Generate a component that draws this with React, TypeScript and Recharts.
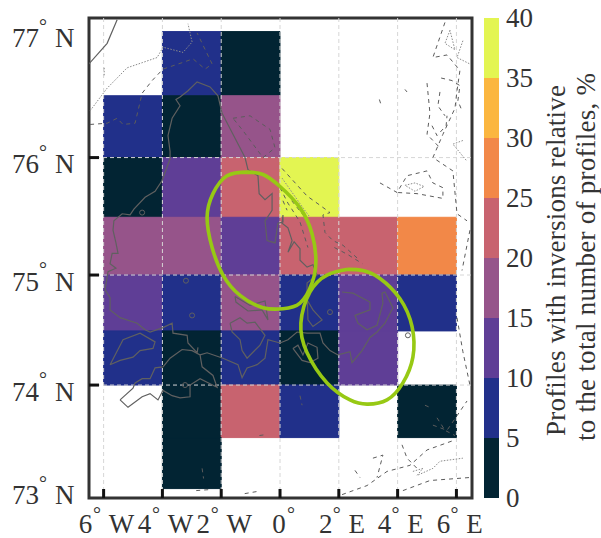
import React from 'react';
import {
  Bar,
  BarChart,
  ComposedChart,
  Line,
  ReferenceArea,
  ReferenceLine,
  Scatter,
  XAxis,
  YAxis,
} from 'recharts';

type Pt = [number, number];

const FONT = '"Liberation Serif", serif';
const INK = '#333333';

// 2 x 0.5 degree cells, % of profiles with inversions (null = no data)
const cellLons = [-6, -4, -2, 0, 2, 4];
const cellLats = [76.5, 76, 75.5, 75, 74.5, 74, 73.5, 73];
const cellValues: (number | null)[][] = [
  [null, 7.5, 2.5, null, null, null],
  [7.5, 2.5, 17.5, null, null, null],
  [2.5, 12.5, 22.5, 37.5, null, null],
  [17.5, 17.5, 12.5, 22.5, 22.5, 27.5],
  [12.5, 7.5, 17.5, 7.5, 12.5, 7.5],
  [7.5, 2.5, 7.5, 2.5, 12.5, null],
  [null, 2.5, 22.5, 7.5, null, 2.5],
  [null, 2.5, null, null, null, null],
];

const bandColors = ['#022433', '#21308a', '#5f3e96', '#96548a', '#c8636f', '#f28848', '#fbb63f', '#e3f552'];
const bandTicks = [0, 5, 10, 15, 20, 25, 30, 35, 40];
const bandRow = [{ name: 'scale', b0: 5, b1: 5, b2: 5, b3: 5, b4: 5, b5: 5, b6: 5, b7: 5 }];

const lonTicks = [-6, -4, -2, 0, 2, 4, 6];
const latTicks = [73, 74, 75, 76, 77];
const gridLats = [74, 75, 76];

const ellipseWest: Pt[] = [[-1.09,75.88],[-1.8,75.85],[-2.28,75.7],[-2.48,75.5],[-2.31,75.24],[-1.94,75],[-1.36,74.82],[-0.58,74.71],[0.1,74.7],[0.68,74.75],[1.09,74.93],[1.22,75.13],[1.09,75.36],[0.68,75.58],[0,75.76],[-0.58,75.86],[-1.09,75.88]];
const ellipseEast: Pt[] = [[2.31,75.05],[1.6,75],[1.02,74.85],[0.71,74.57],[0.92,74.3],[1.6,74.02],[2.38,73.86],[2.96,73.82],[3.64,73.86],[4.18,74.02],[4.52,74.26],[4.49,74.54],[4.08,74.79],[3.4,74.97],[2.82,75.04],[2.31,75.05]];

// coastlines
const coasts: Pt[][] = [
  [[-5.54,77.09],[-5.88,76.91],[-6.5,76.75]],
  [[0.92,74.87],[0.95,74.6],[1.12,74.54],[1.43,74.6],[1.12,74.69],[0.92,74.78],[0.92,74.93],[1.26,75],[1.12,75.09],[0.92,75.07],[0.68,75.13],[0.68,75.23],[0.48,75.29],[0.27,75.2],[0.41,75.3],[0.27,75.41],[0.07,75.45],[0.1,75.52],[0.1,75.46],[-0.07,75.45],[-0.17,75.28],[-0.44,75.3],[-0.51,75.47],[-0.27,75.56],[-0.27,75.7],[-0.51,75.65],[-0.71,75.7],[-0.75,75.85],[-1.09,75.9],[-1.19,76],[-1.6,76.19],[-1.97,76.36],[-2.11,76.5],[-2.38,76.57],[-2.82,76.61],[-3.13,76.54],[-3.4,76.49],[-3.54,76.47],[-3.4,76.42],[-3.67,76.32],[-3.81,76.18],[-3.74,76.05],[-3.74,75.99],[-4.01,75.81],[-4.25,75.72],[-4.59,75.67],[-4.97,75.57],[-5.1,75.52],[-5.37,75.53],[-5.65,75.47],[-5.68,75.39],[-5.58,75.28],[-5.51,75.19],[-5.71,75.19],[-5.78,75.1],[-5.58,75.06],[-5.85,75.03],[-5.95,74.87],[-5.78,74.8],[-5.78,74.69],[-5.44,74.62],[-4.86,74.57],[-4.59,74.51],[-4.42,74.49],[-3.98,74.53],[-3.67,74.57],[-3.64,74.48],[-3.16,74.46],[-3.13,74.39],[-2.82,74.3],[-2.79,74.35]],
  [[-5.78,74.19],[-5.34,74.42],[-4.76,74.48],[-4.25,74.4],[-4.32,74.34],[-4.76,74.32],[-5,74.26],[-5.44,74.23],[-5.78,74.19]],
  [[-5.44,73.86],[-5.17,73.79],[-4.69,73.89],[-4.42,73.92],[-4.15,73.86],[-3.98,73.95],[-3.67,73.9],[-3.4,73.88],[-3.06,73.89],[-3.06,74],[-2.72,74.06],[-2.14,73.98],[-2.28,74.09],[-2.65,74.17],[-2.72,74.28],[-2.99,74.32],[-3.33,74.33],[-3.74,74.25],[-3.98,74.17],[-4.25,74.16],[-4.42,74.06],[-4.69,74.06],[-4.93,74.02],[-5,73.97],[-5.44,73.86]],
  [[-2.72,74.28],[-2.48,74.3],[-1.94,74.25],[-1.43,74.19],[-1.29,74.07],[-1.12,74.16],[-0.78,74.19],[-0.51,74.25],[-0.41,74.42],[0,74.39],[0.27,74.42],[0.58,74.49],[0.92,74.48],[1.36,74.48],[1.46,74.39],[1.7,74.32],[1.97,74.28],[2.38,74.31],[2.45,74.21],[2.79,74.32],[3.06,74.44],[3.3,74.49],[3.57,74.57],[3.84,74.71],[3.57,74.85],[3.47,74.84],[3.5,74.75],[3.3,74.55],[2.96,74.51],[2.65,74.57],[2.55,74.64],[3.06,74.69],[3.06,74.76],[2.48,74.84],[2.11,74.85]],
  [[-1.7,74.57],[-1.36,74.62],[-1.12,74.57],[-0.85,74.58],[-0.51,74.46],[-0.68,74.37],[-1.12,74.25],[-1.29,74.32],[-1.36,74.42],[-1.63,74.49],[-1.7,74.57]],
  [[-1.53,74.81],[-1.02,74.73],[-0.51,74.77],[-0.41,74.6],[-0.61,74.69],[-1.09,74.68],[-1.5,74.76],[-1.53,74.81]],
  [[0.44,74.34],[0.61,74.37],[0.78,74.28],[0.95,74.39],[1.26,74.35],[1.29,74.25],[1.02,74.21],[0.75,74.23],[0.44,74.34]],
];

// depth contours, dashed
const dashedContours: Pt[][] = [
  [[-6.46,76.27],[-5.88,76.28],[-5.54,76.32],[-5.34,76.27],[-4.93,76.28],[-4.69,76.52],[-4.35,76.62],[-3.98,76.71],[-3.33,76.76],[-2.96,76.79],[-2.55,76.71],[-2.31,76.75],[-2.82,76.99]],
  [[-1.6,76.32],[-1.02,76.34],[-0.34,76.23],[-0.17,76.08],[-0.58,76],[-1.26,76.22],[-1.6,76.32]],
  [[0.07,75.91],[0.92,75.68],[1.26,75.62],[1.7,75.54],[1.46,75.52],[1.53,75.37],[1.8,75.3],[2.14,75.26],[2.62,75.15]],
  [[0,75.75],[0.27,75.62],[0.68,75.46],[0.95,75.24]],
  [[0.1,75.64],[0.24,75.56]],
  [[0.4,75.64],[0.85,75.5]],
  [[1.85,75.24],[2.3,75.18],[2.8,75.1]],
  [[5.61,77.07],[5.2,76.8],[5.68,76.82],[6.12,76.7],[6.02,76.54],[5.95,76.4],[5.54,76.19],[5.2,76],[5.88,75.89],[6.02,75.53],[6.36,75.47]],
  [[5,76.6],[5.1,76.36],[5,76.19],[5.44,76.08]],
  [[5.48,76.64],[5.85,76.62],[6.12,76.58],[6.05,76.46],[6.19,76.38]],
  [[5.44,76.53],[5.37,76.42],[5.61,76.34]],
  [[5.17,76.26],[5.34,76.18],[5.65,76.26],[5.68,76.34]],
  [[3.38,76.47],[3.42,76.44]],
  [[4.25,76.55],[4.32,76.53]],
  [[3.4,75.79],[3.98,75.71],[4.32,75.85],[5,75.89],[5.2,75.79],[5.54,75.75],[5.54,75.66],[4.66,75.7],[3.98,75.71]],
  [[6.46,75.39],[6.19,75.04]],
  [[6.02,74.62],[6.22,74.31],[6.46,74]],
  [[2.11,72.94],[2.96,73.03],[3.64,73.17],[4.42,73.23],[5,73.38],[5.88,73.47]],
  [[3.16,73.3],[3.5,73.33],[3.3,73.11]],
  [[4.15,73.43],[4.32,73.3],[4.66,73.2]],
  [[4.18,72.98],[5.1,73.08],[6.46,73.11]],
  [[5.2,73.62],[5.68,73.57],[6.02,73.71],[6.36,73.85]],
  [[2.55,73.18],[2.72,73.11]],
  [[4.93,73.81],[5.17,73.78]],
  [[5.34,73.69],[5.61,73.57],[5.95,73.52]],
  [[0.68,73.9],[0.75,73.81]],
  [[-0.7,73.52],[-0.45,73.53]],
  [[-2.65,73.2],[-2.6,73.1]],
  [[-2.85,72.98],[-2.4,72.99]],
  [[-1.2,72.95],[-0.8,72.97]],
];

// depth contours, dotted
const dottedContours: Pt[][] = [
  [[-6.46,76.38],[-5.88,76.56],[-5.2,76.72],[-4.69,76.76],[-4.18,76.8],[-3.98,76.88],[-3.3,76.84],[-2.99,76.92],[-3.13,77.06]],
  [[-5.98,76.72],[-5.98,76.65]],
  [[0.07,75.83],[0.78,75.58],[1.02,75.5]],
  [[5.78,77.01],[5.61,76.91],[5.95,76.86],[5.78,77.01]],
  [[6.22,76.93],[6.02,76.8],[6.46,76.75]],
  [[6.22,76.14],[5.88,76.11],[6.36,75.97]],
  [[4.25,75.77],[4.59,75.79],[4.9,75.76],[4.59,75.72],[4.25,75.77]],
  [[4.52,73.17],[4.86,73.2],[4.66,73.13],[5.2,73.2],[5.44,73.27],[6.22,73.3]],
];

const islets: Pt[] = [[-3.2,74.95],[-2.99,74.64],[-3.23,74],[1.7,74.67],[4.35,74.46],[-4.69,75.54]];

// Mercator northing, the map is conformal so the y axis is not linear in latitude
const merc = (lat: number) => Math.log(Math.tan(Math.PI / 4 + (lat * Math.PI) / 360));
const toRows = (pts: Pt[]) => pts.map(([lon, lat]) => ({ lon, y: merc(lat) }));

const xDomain: [number, number] = [-6.497, 6.53];
const yDomain: [number, number] = [1.8952, 2.1802];
const plotBottom = 498;

const bandColor = (v: number) => bandColors[Math.min(Math.floor(v / 5), bandColors.length - 1)];

const LatTick = ({ y, index }: { y?: number; index?: number }) => {
  const lat = latTicks[index ?? 0];
  const py = y ?? 0;
  return (
    <g fontFamily={FONT} fill={INK}>
      {gridLats.includes(lat) && <line x1={89} x2={99} y1={py} y2={py} stroke="#111" strokeWidth={3} />}
      <text x={12} y={py + 15.5} fontSize={27}>{lat}</text>
      <text x={43} y={py + 1} fontSize={20} textAnchor="middle">°</text>
      <text x={55} y={py + 15.5} fontSize={27}>N</text>
    </g>
  );
};

const LonTick = ({ x, index }: { x?: number; index?: number }) => {
  const lon = lonTicks[index ?? 0];
  const px = x ?? 0;
  const digitOff = lon < 0 ? -18 : lon > 0 ? -13 : -1;
  const degOff = lon < 0 ? -6.5 : lon > 0 ? -2 : 11;
  const letter = lon < 0 ? 'W' : lon > 0 ? 'E' : '';
  return (
    <g fontFamily={FONT} fill={INK}>
      <line x1={px} x2={px} y1={plotBottom} y2={plotBottom - 9} stroke="#111" strokeWidth={3} />
      <text x={px + digitOff} y={533} fontSize={27} textAnchor="middle">{Math.abs(lon)}</text>
      <text x={px + degOff} y={521} fontSize={20} textAnchor="middle">°</text>
      {letter && <text x={px + 18} y={533} fontSize={27} textAnchor="middle">{letter}</text>}
    </g>
  );
};

const BandTick = ({ x, y, payload }: { x?: number; y?: number; payload?: { value: number } }) => (
  <text x={(x ?? 0) - 1} y={(y ?? 0) + 9} fontFamily={FONT} fontSize={27} fill={INK}>
    {payload?.value}
  </text>
);

const IsletMark = ({ cx, cy }: { cx?: number; cy?: number }) => (
  <circle cx={cx} cy={cy} r={2.5} fill="none" stroke="#606060" strokeWidth={1} />
);

export default function App() {
  return (
    <div style={{ position: 'absolute', left: 0, top: 0, width: 601, height: 538 }}>
      <div style={{ position: 'absolute', left: 0, top: 0 }}>
        <ComposedChart width={484} height={538} margin={{ top: 18, right: 12, bottom: 0, left: 0 }}>
          <XAxis
            dataKey="lon"
            type="number"
            domain={xDomain}
            ticks={lonTicks}
            allowDataOverflow
            axisLine={false}
            tickLine={false}
            height={40}
            interval={0}
            tick={<LonTick />}
          />
          <YAxis
            dataKey="y"
            type="number"
            domain={yDomain}
            ticks={latTicks.map(merc)}
            allowDataOverflow
            axisLine={false}
            tickLine={false}
            width={89}
            interval={0}
            tick={<LatTick />}
          />
          {cellValues.map((row, r) =>
            row.map((v, c) =>
              v === null ? null : (
                <ReferenceArea
                  key={`${r}-${c}`}
                  x1={cellLons[c]}
                  x2={cellLons[c] + 2}
                  y1={merc(cellLats[r])}
                  y2={merc(cellLats[r] + 0.5)}
                  fill={bandColor(v)}
                  fillOpacity={1}
                  stroke={bandColor(v)}
                  strokeWidth={1}
                  strokeOpacity={1}
                />
              ),
            ),
          )}
          {lonTicks.map((lon) => (
            <ReferenceLine key={lon} x={lon} stroke="#d6d6d6" strokeDasharray="4 3" />
          ))}
          {gridLats.map((lat) => (
            <ReferenceLine key={lat} y={merc(lat)} stroke="#d6d6d6" strokeDasharray="4 3" />
          ))}
          {dottedContours.map((pts, i) => (
            <Line key={`dot${i}`} data={toRows(pts)} dataKey="y" stroke="#8a8a8a" strokeWidth={1} strokeDasharray="1.5 1.5" dot={false} isAnimationActive={false} />
          ))}
          {dashedContours.map((pts, i) => (
            <Line key={`dash${i}`} data={toRows(pts)} dataKey="y" stroke="#5c5c5c" strokeWidth={1} strokeDasharray="4 4" dot={false} isAnimationActive={false} />
          ))}
          {coasts.map((pts, i) => (
            <Line key={`coast${i}`} data={toRows(pts)} dataKey="y" stroke="#606060" strokeWidth={1.2} dot={false} isAnimationActive={false} />
          ))}
          <Scatter data={toRows(islets)} dataKey="y" shape={<IsletMark />} isAnimationActive={false} />
          <Line data={toRows(ellipseWest)} dataKey="y" type="natural" stroke="#97c914" strokeWidth={3.6} dot={false} isAnimationActive={false} />
          <Line data={toRows(ellipseEast)} dataKey="y" type="natural" stroke="#97c914" strokeWidth={3.6} dot={false} isAnimationActive={false} />
          <ReferenceArea x1={xDomain[0]} x2={xDomain[1]} y1={yDomain[0]} y2={yDomain[1]} fill="none" stroke={INK} strokeWidth={3} />
        </ComposedChart>
      </div>
      <div style={{ position: 'absolute', left: 484, top: 0 }}>
        <BarChart width={117} height={538} data={bandRow} barCategoryGap={0} margin={{ top: 18, right: 0, bottom: 40, left: 0 }}>
          <XAxis dataKey="name" hide />
          <YAxis
            orientation="right"
            type="number"
            domain={[0, 40]}
            ticks={bandTicks}
            axisLine={false}
            tickLine={false}
            width={102}
            interval={0}
            tick={<BandTick />}
          />
          {bandColors.map((color, i) => (
            <Bar key={color} dataKey={`b${i}`} stackId="scale" fill={color} isAnimationActive={false} />
          ))}
          <text x={0} y={0} transform="translate(81 436) rotate(-90)" fontFamily={FONT} fontSize={27} textLength={351} fill={INK}>
            Profiles with inversions relative
          </text>
          <text x={0} y={0} transform="translate(111 441) rotate(-90)" fontFamily={FONT} fontSize={27} textLength={368} fill={INK}>
            to the total number of profiles, %
          </text>
        </BarChart>
      </div>
    </div>
  );
}
